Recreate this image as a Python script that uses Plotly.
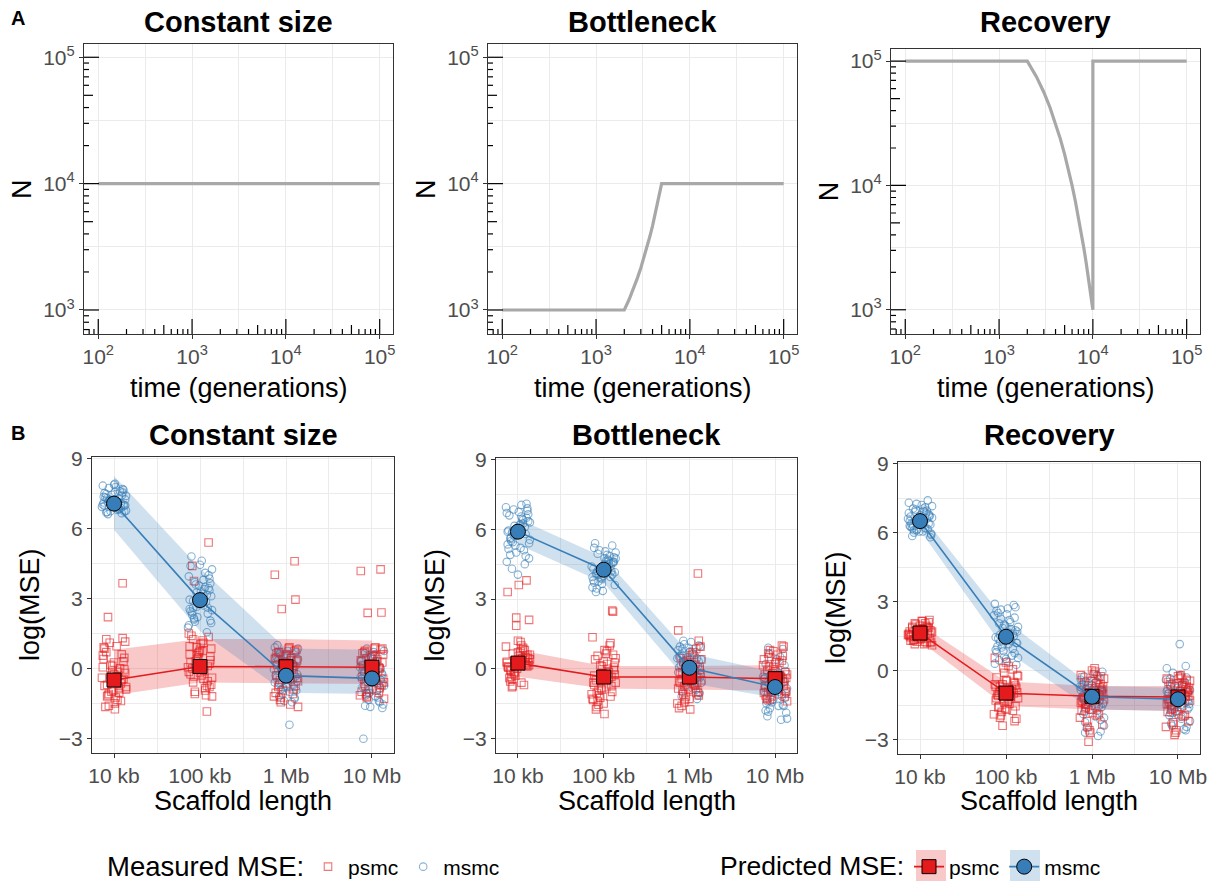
import plotly.graph_objects as go

FONT = "Liberation Sans"
W, H = 1217, 881
RED = "#E41A1C"
BLUE = "#377EB8"
GRID = "#EBEBEB"
TICK_TEXT = "#4D4D4D"
AXIS_LINE = "#333333"

SCENARIOS = ["Constant size", "Bottleneck", "Recovery"]

# panel A: population size histories
TIME_CONST = [100, 100000]
N_CONST = [10000, 10000]
TIME_BOTTLE = [100, 2000, 2250, 2500, 2750, 3000, 3250, 3500, 3750, 4000, 4250, 4500, 4750, 5000, 100000]
N_BOTTLE = [1000, 1000, 1210, 1470, 1780, 2150, 2610, 3160, 3830, 4640, 5620, 6810, 8250, 10000, 10000]
TIME_RECOV = [100, 2000, 2500, 3000, 3500, 4000, 4500, 5000, 5500, 6000, 6500, 7000, 7500, 8000,
              8500, 9000, 9500, 10000, 10000, 100000]
N_RECOV = [100000, 100000, 75000, 56200, 42200, 31600, 23700, 17800, 13300, 10000, 7500, 5620, 4220, 3160,
           2370, 1780, 1330, 1000, 100000, 100000]

DECADE_TICKS = [100, 1000, 10000, 100000]
DECADE_LABELS = ["10<sup>2</sup>", "10<sup>3</sup>", "10<sup>4</sup>", "10<sup>5</sup>"]
N_TICKS = [1000, 10000, 100000]
N_LABELS = ["10<sup>3</sup>", "10<sup>4</sup>", "10<sup>5</sup>"]

# panel B: measured and predicted MSE
SCAFFOLD = [1e4, 1e5, 1e6, 1e7]
SCAFFOLD_LABELS = ["10 kb", "100 kb", "1 Mb", "10 Mb"]
MSE_TICKS = [-3, 0, 3, 6, 9]
MSE_LABELS = ["\u22123", "0", "3", "6", "9"]

# jitter offsets (decades) shared by every group
JITTER = [-0.12, 0.05, -0.03, 0.11, -0.08, 0.02, 0.13, -0.14, 0.07, -0.01,
          0.09, -0.10, 0.00, 0.12, -0.06, 0.04, -0.11, 0.08, -0.04, 0.14,
          -0.13, 0.03, -0.07, 0.10, -0.02, 0.06, -0.09, 0.01, 0.13, -0.05,
          0.08, -0.12, 0.04, -0.07, 0.11, -0.02, 0.14, -0.09, 0.01, -0.13,
          0.06, -0.04, 0.10, -0.11, 0.03, -0.06, 0.12, -0.08, 0.00, 0.09]

MSMC_CONST = [
    [7.12, 6.85, 7.45, 7.02, 6.71, 7.78, 7.25, 6.93, 7.60, 7.05, 6.66, 7.33, 7.88, 6.98, 7.18,
     6.80, 7.52, 7.09, 6.74, 7.40, 7.84, 6.90, 7.15, 7.70, 6.95, 7.28, 6.69, 7.57, 7.00, 7.21,
     6.88, 7.36, 7.05, 6.62, 7.66, 7.14, 6.77, 7.48, 7.92, 7.03, 6.83, 7.24, 7.55, 6.97, 7.10,
     7.74, 6.72, 7.30, 7.01, 7.42],
    [2.95, 3.40, 2.20, 3.85, 2.60, 4.62, 3.10, 1.75, 2.85, 3.55, 2.35, 4.80, 3.00, 2.05, 3.70,
     2.70, 4.40, 1.55, 3.25, 2.50, 3.95, 2.90, 2.15, 3.45, 2.75, 4.10, 2.40, 3.30, 1.95, 3.60,
     3.15, 2.55, 3.80, 2.10, 3.35, 2.80, 4.25, 2.30, 3.05, 1.85, 3.50, 2.65, 4.00, 2.45, 3.20,
     2.00, 3.65, 2.90, 4.45, 2.60],
    [-0.30, 0.45, -0.85, 0.10, -1.20, 0.75, -0.55, -0.05, -1.45, 0.30, -0.70, 1.00, -0.20, -0.95, 0.55,
     -2.42, -0.40, 0.20, -1.10, 0.85, -0.60, -0.15, 0.60, -1.30, 0.05, -0.45, 0.35, -0.80, -0.25, 0.15,
     -0.50, 0.25, -1.00, 0.65, -0.35, -1.40, 0.40, -0.10, -0.75, 0.90, -0.55, 0.00, -1.25, 0.50, -0.30,
     -0.90, 0.70, -0.65, 0.15, -0.20],
    [-0.45, 0.30, -1.05, -0.20, -1.60, 0.70, -0.65, 0.05, -1.25, 0.50, -0.85, -3.02, -0.30, -1.70, 0.85,
     -0.55, -0.10, -1.40, 0.20, -0.75, -0.35, 0.60, -1.15, -0.50, 0.10, -0.95, -0.25, 0.40, -1.55, -0.60,
     -0.70, 0.15, -1.20, 0.45, -0.40, -1.65, 0.75, -0.15, -0.90, 0.30, -0.55, -1.35, 0.00, -0.80, 0.55,
     -1.05, -0.25, 0.65, -0.60, -1.45],
]
PSMC_CONST = [
    [-0.50, 0.25, -1.20, -0.05, -1.60, 0.95, -0.75, 3.65, -0.30, -1.05, 0.55, -1.75, 1.25, -0.90, 0.10,
     -0.45, 2.20, -1.35, 0.40, -0.65, 1.10, -0.20, -1.50, 0.70, -0.85, -0.10, 1.30, -1.15, -0.35, 0.05,
     -0.80, 0.15, -1.40, 0.85, -0.55, -1.10, 0.45, -0.25, -1.65, 0.60, -0.95, 0.00, -0.40, 1.15, -1.25,
     -0.70, 0.30, -1.00, -0.15, 0.90],
    [0.10, 0.80, -0.60, 0.35, -1.10, 1.20, -0.25, 5.40, 0.55, -0.85, 1.50, -0.05, 4.40, -1.20, 0.65,
     0.20, 3.75, -0.45, 0.95, -1.85, 0.30, -0.70, 1.05, 0.00, -0.95, 0.45, 1.35, -0.35, 0.75, -0.15,
     -0.40, 0.90, -0.75, 0.25, 1.10, -1.00, 0.50, -0.20, 1.40, -0.55, 0.70, -1.15, 0.05, 0.85, -0.30,
     1.25, -0.80, 0.40, -0.10, 0.60],
    [0.05, 0.60, -0.70, 0.30, -1.25, 0.85, -0.30, 4.60, -0.95, 0.45, 4.02, -0.15, 0.70, -1.65, 0.20,
     2.95, -0.50, 0.90, -1.05, 0.10, 2.55, -0.40, 0.55, -0.80, 0.35, -0.10, 0.75, -1.35, -0.20, 0.40,
     -0.55, 0.25, -1.10, 0.65, -0.25, -1.45, 0.80, -0.65, 0.15, -0.90, 0.50, -0.05, -1.20, 0.35, -0.45,
     0.70, -0.75, 0.00, -1.55, 0.45],
    [0.00, 0.55, -0.75, 0.25, -1.20, 0.85, -0.35, 4.25, -0.90, 0.40, 4.18, -0.10, 0.70, -1.30, 0.15,
     2.40, -0.55, 0.90, -1.00, 0.05, 2.38, -0.45, 0.50, -0.65, 0.30, -0.20, 0.80, -1.10, -0.25, 0.35,
     -0.60, 0.20, -1.05, 0.65, -0.30, -1.25, 0.85, -0.50, 0.10, -0.85, 0.45, -0.15, -1.15, 0.60, -0.40,
     0.75, -0.70, 0.05, -0.95, 0.30],
]
MSMC_BOTTLE = [
    [5.90, 6.45, 5.30, 6.80, 5.65, 6.20, 4.75, 6.95, 5.10, 6.05, 5.80, 6.60, 4.05, 6.35, 5.45,
     7.05, 5.95, 4.50, 6.15, 5.55, 6.70, 5.20, 4.30, 6.50, 5.75, 6.25, 4.90, 6.00, 5.40, 6.85,
     6.10, 5.35, 6.55, 5.85, 6.90, 5.00, 6.30, 5.60, 6.75, 4.60, 6.40, 5.70, 7.10, 5.15, 6.20,
     5.90, 6.65, 5.50, 6.00, 4.85],
    [4.30, 4.70, 3.90, 4.55, 4.10, 5.05, 3.60, 4.40, 4.85, 3.35, 4.20, 5.40, 4.00, 4.60, 3.75,
     4.45, 5.20, 3.95, 4.25, 4.75, 3.50, 4.35, 4.95, 4.05, 3.85, 4.65, 3.30, 4.50, 4.15, 5.10,
     4.40, 3.80, 4.90, 4.20, 4.60, 3.65, 5.00, 4.10, 4.75, 3.95, 4.50, 4.30, 5.30, 3.70, 4.65,
     4.05, 4.80, 3.45, 4.35, 4.55],
    [0.05, 0.65, -0.55, 0.30, -1.00, 1.15, -0.25, 0.45, -0.75, 0.90, -1.30, 0.15, 0.70, -0.40, 1.05,
     -0.10, 0.55, -0.90, 0.25, -0.60, 0.80, -0.20, 1.20, -1.15, 0.35, -0.05, 0.60, -0.45, 0.95, 0.10,
     -0.30, 0.50, -0.85, 0.20, 1.00, -0.50, 0.40, -1.20, 0.75, -0.15, 0.60, -0.70, 0.10, 0.95, -0.35,
     0.30, -1.05, 0.85, -0.05, 0.45],
    [-0.80, -0.20, -1.35, -0.55, -1.85, 0.40, -1.05, -0.35, -2.20, -0.70, 0.85, -1.50, -0.95, -0.10, -1.70,
     -0.60, 0.20, -1.20, -0.85, -2.15, -0.45, -1.00, 0.65, -1.60, -0.75, -0.25, -1.40, -0.50, -1.90, -0.90,
     -1.10, -0.40, -1.60, -0.65, 0.15, -1.30, -0.85, -2.05, -0.30, -1.00, 0.50, -1.45, -0.55, -1.80, -0.15,
     -0.95, -1.25, 0.90, -0.70, -1.55],
]
PSMC_BOTTLE = [
    [0.20, 0.70, -0.35, 0.45, -0.75, 1.15, 0.05, 3.80, -0.15, 0.85, 0.30, 3.60, -0.55, 0.60, 2.20,
     0.10, -0.80, 1.00, 3.30, 0.35, -0.25, 2.10, 0.55, -0.05, 0.90, 1.85, 0.15, -0.45, 0.75, 0.25,
     0.40, -0.20, 0.80, 0.05, -0.60, 0.65, 0.25, 1.20, -0.40, 0.50, 0.00, -0.70, 0.95, 0.15, 0.35,
     -0.10, 0.60, -0.30, 0.45, 0.10],
    [-0.35, 0.30, -1.05, 0.05, -1.55, 0.65, -0.70, 2.50, -1.25, -0.15, 1.35, -1.95, -0.50, 0.45, -0.90,
     2.45, -1.40, 0.20, -0.60, 1.10, -1.15, -0.25, 0.80, -1.75, -0.40, 0.10, -1.00, 0.55, -0.80, -1.30,
     -0.60, 0.15, -1.20, -0.30, 0.75, -0.95, -0.05, -1.50, 0.40, -0.75, -0.20, 1.00, -1.10, 0.25, -0.45,
     -1.65, 0.60, -0.85, 0.00, -1.35],
    [-0.35, 0.25, -0.95, 0.05, -1.45, 0.60, -0.60, 4.10, -1.20, -0.10, 1.65, -1.75, -0.45, 0.40, -0.80,
     1.20, -1.10, 0.15, -0.55, 0.85, -1.35, -0.20, 0.50, -1.60, -0.70, 0.00, -1.00, 0.30, -0.30, -0.85,
     -0.50, 0.10, -1.05, -0.20, 0.70, -0.75, -0.05, -1.30, 0.45, -0.60, -0.90, 0.20, -1.50, 0.95, -0.35,
     -0.15, -1.15, 0.35, -0.65, -1.70],
    [-0.45, 0.20, -1.00, -0.15, -1.35, 0.60, -0.70, 0.95, -1.20, -0.30, 0.40, -0.85, -0.05, -1.40, 0.75,
     -0.55, 0.10, -1.10, -0.25, 1.00, -0.90, -0.40, 0.30, -1.25, -0.60, 0.05, -0.75, 0.50, -0.35, -1.05,
     -0.25, -0.80, 0.35, -1.15, -0.50, 0.80, -0.95, -0.10, -1.30, 0.55, -0.65, -0.35, 0.15, -1.00, -0.55,
     0.65, -1.20, -0.20, 0.25, -0.75],
]
MSMC_RECOV = [
    [6.50, 6.90, 6.15, 6.70, 6.30, 7.20, 5.90, 6.60, 6.85, 6.05, 7.40, 6.40, 6.75, 5.80, 6.55,
     7.05, 6.25, 6.95, 6.10, 6.65, 7.30, 6.35, 6.00, 6.80, 6.45, 7.10, 6.20, 6.60, 5.95, 7.00,
     6.60, 6.30, 6.95, 6.10, 6.75, 6.45, 7.15, 5.85, 6.55, 6.85, 6.20, 7.25, 6.40, 6.70, 6.05,
     6.90, 6.35, 7.05, 6.50, 6.15],
    [1.45, 2.10, 0.85, 1.75, 0.45, 2.70, 1.20, 2.40, 0.65, 1.95, 2.85, 1.05, 1.60, 0.25, 2.25,
     1.35, 2.60, 0.95, 1.85, 0.55, 2.90, 1.15, 1.55, 0.75, 2.00, 1.30, 2.50, 0.40, 1.70, 1.00,
     1.60, 0.90, 2.20, 1.25, 2.75, 0.60, 1.90, 1.40, 2.45, 0.30, 1.80, 1.10, 2.30, 0.80, 1.65,
     2.65, 1.20, 2.05, 0.50, 1.50],
    [-1.15, -0.50, -1.70, -0.85, -2.25, -0.15, -1.40, -0.70, -2.85, -1.00, -0.30, -1.90, -1.25, -0.05, -2.50,
     -1.05, -0.60, -1.55, -0.95, -2.05, -0.40, -1.30, -0.80, -2.65, -1.20, -0.20, -1.80, -0.90, -1.45, -0.65,
     -1.35, -0.75, -2.00, -0.45, -1.60, -1.05, -2.40, -0.25, -1.20, -0.85, -1.75, -0.55, -2.15, -1.10, -0.35,
     -1.50, -0.95, -2.70, -0.65, -1.30],
    [-1.25, -0.60, -1.80, -0.95, -2.30, 1.15, -1.45, -0.40, -2.55, -1.10, 0.20, -1.95, -0.75, -1.35, -0.10,
     -2.10, -1.00, -0.50, -1.65, -0.85, 0.10, -1.50, -2.40, -0.30, -1.20, -0.70, -1.85, -0.90, -1.60, -1.05,
     -1.40, -0.80, -2.00, -0.55, -1.70, -1.15, -2.20, -0.35, -1.30, -0.90, -1.55, -0.65, -2.45, -1.00, -0.20,
     -1.85, -1.25, -0.70, -1.45, -2.60],
]
PSMC_RECOV = [
    [1.60, 1.95, 1.30, 1.75, 1.15, 2.15, 1.45, 1.85, 1.25, 2.05, 1.55, 1.40, 1.90, 1.10, 1.70,
     2.20, 1.35, 1.80, 1.50, 1.20, 2.00, 1.65, 1.40, 1.85, 1.25, 1.55, 2.10, 1.35, 1.75, 1.60,
     1.70, 1.45, 1.90, 1.30, 1.60, 2.05, 1.20, 1.75, 1.50, 1.85, 1.35, 1.95, 1.55, 1.25, 2.15,
     1.65, 1.40, 1.80, 1.15, 1.70],
    [-1.00, -0.40, -1.55, -0.75, -1.95, 0.20, -1.20, -0.55, -2.40, -0.90, 0.55, -1.70, -1.10, -0.25, -1.40,
     -0.65, -2.05, -0.85, -1.30, 0.05, -1.80, -0.95, -0.45, -1.60, -1.15, -0.10, -2.20, -0.70, -1.25, -0.60,
     -1.20, -0.60, -1.75, -0.30, -1.45, -0.85, -2.10, 0.35, -1.05, -0.50, -1.65, -0.80, -1.90, -0.20, -1.35,
     -0.95, -1.55, 0.10, -1.10, -0.70],
    [-1.10, -0.45, -1.65, -0.80, -2.20, 0.10, -1.35, -0.60, -3.10, -1.00, -0.20, -1.85, -1.20, -0.35, -2.70,
     -0.90, -1.50, -0.05, -1.75, -1.05, -2.45, -0.70, -1.30, -0.50, -1.95, -1.15, -0.25, -1.60, -0.85, -1.40,
     -1.25, -0.65, -1.90, -0.30, -1.55, -0.95, -2.35, 0.00, -1.20, -0.75, -1.70, -0.40, -2.05, -1.05, -0.15,
     -1.45, -0.85, -2.60, -0.55, -1.30],
    [-1.15, -0.55, -1.70, -0.85, -2.25, -0.20, -1.40, -0.70, -2.80, -1.05, -0.35, -1.90, -1.25, -0.45, -2.60,
     -0.95, -1.55, -0.30, -1.80, -1.10, -2.35, -0.75, -1.30, -0.60, -2.00, -1.20, -0.40, -1.65, -0.90, -1.45,
     -1.30, -0.70, -1.95, -0.50, -1.60, -1.00, -2.20, -0.25, -1.35, -0.80, -1.75, -0.55, -2.45, -1.10, -0.35,
     -1.50, -0.90, -2.70, -0.65, -1.25],
]

# predicted mean and interval per scaffold length
MSMC_MEAN = [[7.07, 2.93, -0.31, -0.43], [5.90, 4.26, 0.04, -0.79], [6.50, 1.47, -1.14, -1.25]]
MSMC_LO = [[5.95, 1.60, -1.05, -1.10], [5.35, 3.70, -0.62, -1.25], [6.10, 0.85, -1.69, -1.76]]
MSMC_HI = [[8.25, 4.30, 0.85, 0.80], [6.45, 4.80, 0.65, -0.15], [6.85, 2.16, -0.67, -0.75]]
PSMC_MEAN = [[-0.50, 0.08, 0.07, 0.05], [0.24, -0.36, -0.36, -0.43], [1.63, -0.98, -1.12, -1.15]]
PSMC_LO = [[-1.15, -0.60, -0.65, -0.67], [-0.35, -0.85, -0.90, -0.95], [1.29, -1.55, -1.69, -1.76]]
PSMC_HI = [[0.80, 1.26, 1.26, 1.20], [0.80, 0.12, 0.12, 0.15], [2.00, -0.48, -0.67, -0.67]]

MEASURED_MSMC = [MSMC_CONST, MSMC_BOTTLE, MSMC_RECOV]
MEASURED_PSMC = [PSMC_CONST, PSMC_BOTTLE, PSMC_RECOV]

# panel boxes in pixels: left, right, top, bottom
TOP_BOXES = [(84, 393, 44, 334), (488, 797, 44, 334), (891, 1200, 48.7, 334)]
TOP_YRANGES = [[2.81, 5.105], [2.81, 5.105], [2.805, 5.10]]
TOP_XRANGE = [1.848, 5.142]
BOTTOM_BOXES = [(92, 394, 457, 753), (496, 797, 458, 753), (898, 1200, 462, 754)]
BOTTOM_XRANGE = [3.744, 7.256]
BOTTOM_YRANGE = [-3.63, 9.07]


def ids(i):
    s = "" if i == 1 else str(i)
    return "x" + s, "y" + s, "xaxis" + s, "yaxis" + s


def rgba(hex_color, a):
    h = hex_color.lstrip("#")
    return "rgba({},{},{},{})".format(int(h[0:2], 16), int(h[2:4], 16), int(h[4:6], 16), a)


def base_axis(domain, rng, **kw):
    ax = dict(domain=domain, range=rng, showline=True, mirror=True, linecolor=AXIS_LINE,
              linewidth=1.2, ticks="outside", ticklen=4, tickcolor=AXIS_LINE, tickwidth=1,
              showgrid=True, gridcolor=GRID, gridwidth=1.1, zeroline=False,
              tickfont=dict(family=FONT, size=21, color=TICK_TEXT), fixedrange=True)
    ax.update(kw)
    return ax


def logticks(xr, yr, lo, hi, on_x, plen):
    out = []
    for k in range(1, 6):
        for m in range(1, 10):
            v = m * 10 ** k
            if v < 10 ** lo or v > 10 ** hi:
                continue
            length = 15 if m == 1 else (9 if m == 5 else 5)
            frac = length / plen
            if on_x:
                out.append(dict(type="line", xref=xr, yref=yr + " domain", x0=v, x1=v, y0=0, y1=frac,
                                line=dict(color="black", width=1.2)))
            else:
                out.append(dict(type="line", xref=xr + " domain", yref=yr, x0=0, x1=frac, y0=v, y1=v,
                                line=dict(color="black", width=1.2)))
    return out


fig = go.Figure()
shapes = []
annotations = []
layout = {}

# ---- row A
histories = [(TIME_CONST, N_CONST), (TIME_BOTTLE, N_BOTTLE), (TIME_RECOV, N_RECOV)]
for i, (t, n) in enumerate(histories, start=1):
    xr, yr, xa, ya = ids(i)
    l, r, tp, bt = TOP_BOXES[i - 1]
    fig.add_trace(go.Scatter(x=t, y=n, mode="lines", line=dict(color="#A8A8A8", width=3.2),
                             xaxis=xr, yaxis=yr, showlegend=False, hoverinfo="skip"))
    layout[xa] = base_axis([l / W, r / W], TOP_XRANGE, type="log", anchor=yr,
                           tickvals=DECADE_TICKS, ticktext=DECADE_LABELS,
                           minor=dict(tickvals=[10 ** 2.5, 10 ** 3.5, 10 ** 4.5], ticks="",
                                      showgrid=True, gridcolor=GRID, gridwidth=0.6))
    layout[ya] = base_axis([1 - bt / H, 1 - tp / H], TOP_YRANGES[i - 1], type="log", anchor=xr,
                           tickvals=N_TICKS, ticktext=N_LABELS,
                           minor=dict(tickvals=[10 ** 3.5, 10 ** 4.5], ticks="",
                                      showgrid=True, gridcolor=GRID, gridwidth=0.6))
    shapes += logticks(xr, yr, TOP_XRANGE[0], TOP_XRANGE[1], True, bt - tp)
    shapes += logticks(xr, yr, TOP_YRANGES[i - 1][0], TOP_YRANGES[i - 1][1], False, r - l)
    annotations.append(dict(text="<b>" + SCENARIOS[i - 1] + "</b>", x=(l + r) / 2 / W, y=1 - 22 / H,
                            font=dict(size=29)))
    annotations.append(dict(text="time (generations)", x=(l + r) / 2 / W, y=1 - 388 / H,
                            font=dict(size=27)))
    annotations.append(dict(text="N", x=(l - 62) / W, y=1 - (tp + bt) / 2 / H, textangle=-90,
                            font=dict(size=27)))

# ---- row B
for p in range(3):
    i = p + 4
    xr, yr, xa, ya = ids(i)
    l, r, tp, bt = BOTTOM_BOXES[p]
    first = p == 0
    for groups, color, symbol, name, rank, jit in [
        (MEASURED_MSMC[p], BLUE, "circle-open", "msmc", 2, JITTER),
        (MEASURED_PSMC[p], RED, "square-open", "psmc", 1, JITTER[::-1]),
    ]:
        xs, ys = [], []
        for L, vals in zip(SCAFFOLD, groups):
            xs += [L * 10 ** j for j in jit[:len(vals)]]
            ys += vals
        fig.add_trace(go.Scatter(x=xs, y=ys, mode="markers", name=name, legend="legend",
                                 legendrank=rank, showlegend=first, xaxis=xr, yaxis=yr,
                                 marker=dict(symbol=symbol, size=7.5, color=color, opacity=0.6,
                                             line=dict(width=1.1, color=color))))
    for mean, lo, hi, color in [(PSMC_MEAN[p], PSMC_LO[p], PSMC_HI[p], RED),
                                (MSMC_MEAN[p], MSMC_LO[p], MSMC_HI[p], BLUE)]:
        fig.add_trace(go.Scatter(x=SCAFFOLD + SCAFFOLD[::-1], y=hi + lo[::-1], mode="lines",
                                 fill="toself", fillcolor=rgba(color, 0.24), line=dict(width=0),
                                 showlegend=False, hoverinfo="skip", xaxis=xr, yaxis=yr))
    for mean, color, symbol, size, name, rank in [(PSMC_MEAN[p], RED, "square", 14, "psmc", 1),
                                                  (MSMC_MEAN[p], BLUE, "circle", 15, "msmc", 2)]:
        fig.add_trace(go.Scatter(x=SCAFFOLD, y=mean, mode="lines+markers", name=name,
                                 legend="legend2", legendrank=rank, showlegend=first,
                                 line=dict(color=color, width=1.6),
                                 marker=dict(symbol=symbol, size=size, color=color,
                                             line=dict(color="black", width=1)),
                                 xaxis=xr, yaxis=yr))
    layout[xa] = base_axis([l / W, r / W], BOTTOM_XRANGE, type="log", anchor=yr,
                           tickvals=SCAFFOLD, ticktext=SCAFFOLD_LABELS,
                           minor=dict(tickvals=[10 ** 4.5, 10 ** 5.5, 10 ** 6.5], ticks="",
                                      showgrid=True, gridcolor=GRID, gridwidth=0.6))
    layout[ya] = base_axis([1 - bt / H, 1 - tp / H], BOTTOM_YRANGE, anchor=xr,
                           tickvals=MSE_TICKS, ticktext=MSE_LABELS,
                           minor=dict(tickvals=[-1.5, 1.5, 4.5, 7.5], ticks="",
                                      showgrid=True, gridcolor=GRID, gridwidth=0.6))
    annotations.append(dict(text="<b>" + SCENARIOS[p] + "</b>", x=(l + r) / 2 / W, y=1 - 435 / H,
                            font=dict(size=29)))
    annotations.append(dict(text="Scaffold length", x=(l + r) / 2 / W, y=1 - 801 / H,
                            font=dict(size=27)))
    annotations.append(dict(text="log(MSE)", x=(l - 62) / W, y=1 - (tp + bt) / 2 / H, textangle=-90,
                            font=dict(size=27)))

annotations.append(dict(text="<b>A</b>", x=18 / W, y=1 - 18 / H, font=dict(size=20)))
annotations.append(dict(text="<b>B</b>", x=18 / W, y=1 - 433 / H, font=dict(size=20)))
for a in annotations:
    a.update(xanchor="center")

# legend titles
annotations.append(dict(text="Measured MSE:", x=105 / W, y=1 - 866 / H, xanchor="left",
                        font=dict(size=27.5)))
annotations.append(dict(text="Predicted MSE:", x=718 / W, y=1 - 866 / H, xanchor="left",
                        font=dict(size=26.5)))
for a in annotations:
    a.update(xref="paper", yref="paper", showarrow=False, yanchor="middle")
    a["font"].update(family=FONT, color="black")

# ribbon patches behind the predicted-MSE legend keys
for cx, color in [(931, RED), (1025, BLUE)]:
    shapes.append(dict(type="rect", xref="paper", yref="paper", x0=(cx - 15) / W, x1=(cx + 15) / W,
                       y0=0, y1=1 - 850 / H, line=dict(width=0), fillcolor=rgba(color, 0.24),
                       layer="below"))

legend_style = dict(orientation="h", yanchor="middle", y=1 - 867 / H, xanchor="left",
                    bgcolor="rgba(0,0,0,0)", font=dict(family=FONT, size=21, color="black"),
                    itemwidth=30, tracegroupgap=0, borderwidth=0)
layout["legend"] = dict(legend_style, x=308 / W)
layout["legend2"] = dict(legend_style, x=909 / W)

fig.update_layout(width=W, height=H, margin=dict(l=0, r=0, t=0, b=0, autoexpand=False),
                  plot_bgcolor="white", paper_bgcolor="white",
                  font=dict(family=FONT, color="black"),
                  shapes=shapes, annotations=annotations, **layout)

fig.write_html("out.html", config={"displayModeBar": False},
               post_script="document.body.style.margin = '0px';")
